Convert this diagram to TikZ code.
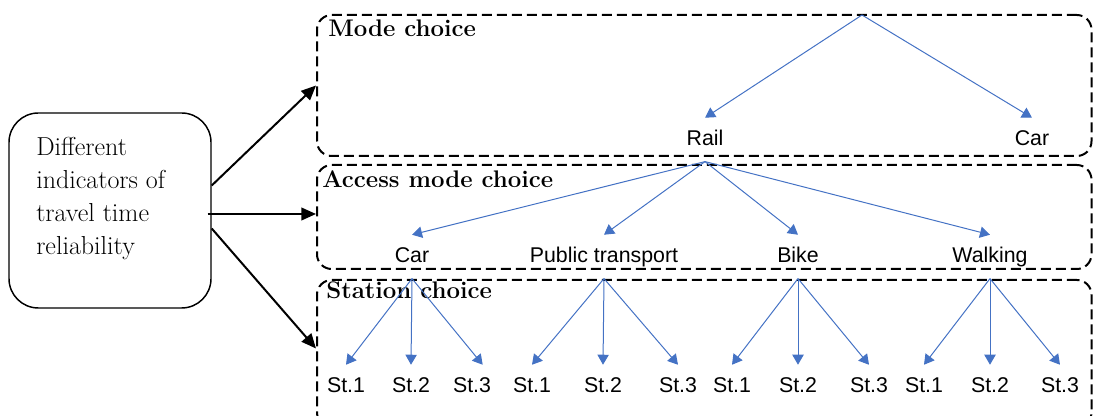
\documentclass[tikz,border=0pt]{standalone}
\usepackage{fontspec}
\newfontfamily\sansf{Liberation Sans}
\usetikzlibrary{arrows.meta,calc,fit}
\definecolor{treeblue}{RGB}{68,114,196}
\begin{document}
\begin{tikzpicture}[x=0.75pt,y=-0.75pt,
  dbox/.style={draw=black, line width=1.5pt, dash pattern=on 7.5pt off 3.75pt, rounded corners=11pt, inner sep=0pt},
  ttl/.style={anchor=base west, inner sep=0pt, font=\fontsize{18}{22}\selectfont\bfseries},
  lbl/.style={anchor=base, font=\sansf\fontsize{16}{19}\selectfont, text height=11pt, text depth=1.5pt, inner ysep=10pt, inner xsep=2pt},
  tarrow/.style={draw=treeblue, line width=0.75pt, -{Triangle[length=7.5pt,width=8.5pt]}},
  bigarrow/.style={draw=black, line width=1.5pt, -{Triangle[length=11pt,width=9.5pt]}}]
\clip (0,0) rectangle (1093,416);

% left box
\node[draw, line width=1.1pt, rounded corners=22pt, minimum width=151.5pt, minimum height=146.25pt] (src) at (110,210.5) {};
\node[anchor=north west, inner sep=0pt, align=left, font=\fontsize{19.5}{24.75}\selectfont] (srclabel) at (36,137) {Different\\indicators of\\travel time\\reliability};

% dashed boxes
\coordinate (m1) at (317,15);  \coordinate (m2) at (1091.5,156);
\coordinate (a1) at (317,165); \coordinate (a2) at (1091.5,269);
\coordinate (s1) at (317,280); \coordinate (s2) at (1091.5,427);
\node[dbox, fit=(m1)(m2)] (modebox) {};
\node[dbox, fit=(a1)(a2)] (accbox) {};
\node[dbox, fit=(s1)(s2)] (stbox) {};

\node[ttl] (t1) at (328,37) {Mode choice};
\node[ttl] (t2) at (322,188) {Access mode choice};
\node[ttl] (t3) at (326,299) {Station choice};

% big arrows
\draw[bigarrow] ($(src.east)+(0,-25)$) -- (modebox.west);
\draw[bigarrow] ($(src.east)+(-4,3.5)$) -- ($(accbox.west)+(0,-3)$);
\draw[bigarrow] ($(src.east)+(0,18)$) -- ($(stbox.west)+(0,-5)$);

% mode level
\coordinate (root) at (862,15);
\node[lbl] (rail) at (705,146) {Rail};
\node[lbl] (mcar) at (1032,146) {Car};
\draw[tarrow] (root) -- (rail.north);
\draw[tarrow] (root) -- (mcar.north);

% access level
\node[lbl] (acar) at (412,263) {Car};
\node[lbl] (apt) at (604,263) {Public transport};
\node[lbl] (abike) at (798,263) {Bike};
\node[lbl] (awalk) at (990,263) {Walking};
\foreach \n in {acar,apt,abike,awalk}
  \draw[tarrow] (rail.south) -- (\n.north);

% station level
\node[lbl] (c1) at (346,393) {St.1};
\node[lbl] (c2) at (411,393) {St.2};
\node[lbl] (c3) at (472,393) {St.3};
\node[lbl] (p1) at (532,393) {St.1};
\node[lbl] (p2) at (603,393) {St.2};
\node[lbl] (p3) at (678,393) {St.3};
\node[lbl] (b1) at (732,393) {St.1};
\node[lbl] (b2) at (798,393) {St.2};
\node[lbl] (b3) at (869,393) {St.3};
\node[lbl] (w1) at (924,393) {St.1};
\node[lbl] (w2) at (990,393) {St.2};
\node[lbl] (w3) at (1060,393) {St.3};

\draw[tarrow] (acar.south) -- (c1.north);
\draw[tarrow] (acar.south) -- (c2.north);
\draw[tarrow] (acar.south) -- ([xshift=8pt]c3.north);
\draw[tarrow] (apt.south) -- (p1.north);
\draw[tarrow] (apt.south) -- (p2.north);
\draw[tarrow] (apt.south) -- (p3.north);
\draw[tarrow] (abike.south) -- (b1.north);
\draw[tarrow] (abike.south) -- (b2.north);
\draw[tarrow] (abike.south) -- (b3.north);
\draw[tarrow] (awalk.south) -- (w1.north);
\draw[tarrow] (awalk.south) -- (w2.north);
\draw[tarrow] (awalk.south) -- (w3.north);
\end{tikzpicture}
\end{document}
